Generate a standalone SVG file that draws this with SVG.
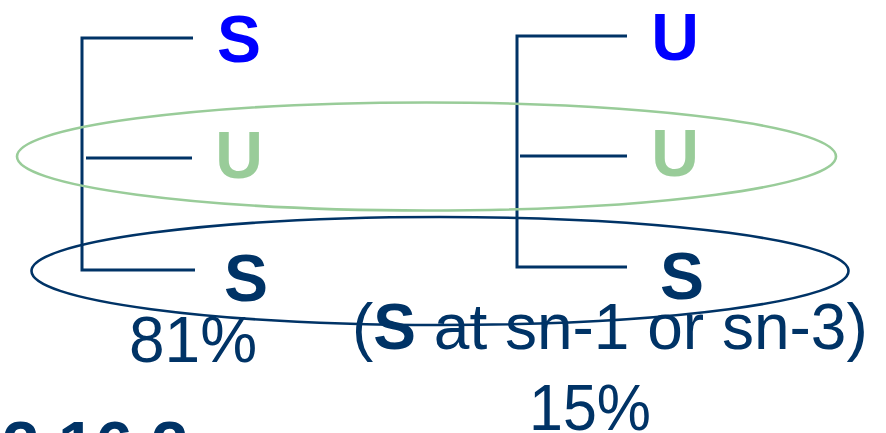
<svg xmlns="http://www.w3.org/2000/svg" width="886" height="433" viewBox="0 0 886 433">
<style>
.br{fill:none;stroke:#003366;stroke-width:3}
.el{fill:none;stroke-width:2.6}
.b{font-family:"Liberation Sans",Arial,sans-serif;font-weight:bold;font-size:66px;text-anchor:middle}
.t{font-family:"Liberation Sans",Arial,sans-serif;fill:#003366}
</style>
<rect width="886" height="433" fill="#ffffff"/>
<g id="connectors">
<path class="br" d="M193,38 H82 V270 H195 M86,158 H192"/>
<path class="br" d="M627,36 H517 V267 H627 M520,156 H627"/>
</g>
<g id="ellipses">
<ellipse class="el" cx="426.5" cy="156.5" rx="409.5" ry="54" stroke="#99CC99"/>
<ellipse class="el" cx="440" cy="271" rx="408.5" ry="54" stroke="#003366"/>
</g>
<g id="left-column">
<text class="b" x="239" y="62" fill="#0000FF">S</text>
<text class="b" x="239" y="178" fill="#99CC99">U</text>
<text class="b" x="246" y="301" fill="#003366">S</text>
</g>
<g id="right-column">
<text class="b" x="675" y="60" fill="#0000FF">U</text>
<text class="b" x="675" y="176" fill="#99CC99">U</text>
<text class="b" x="682" y="299" fill="#003366">S</text>
</g>
<g id="labels">
<text class="t" x="129" y="362" font-size="64">81%</text>
<text class="t" x="352" y="349" font-size="64">(<tspan font-weight="bold">S</tspan> at sn-1 or sn-3)</text>
<text class="t" x="529" y="430" font-size="64" textLength="122" lengthAdjust="spacingAndGlyphs">15%</text>
<text class="t" x="2" y="468" font-size="67" font-weight="bold">2.16.2</text>
</g>
</svg>
